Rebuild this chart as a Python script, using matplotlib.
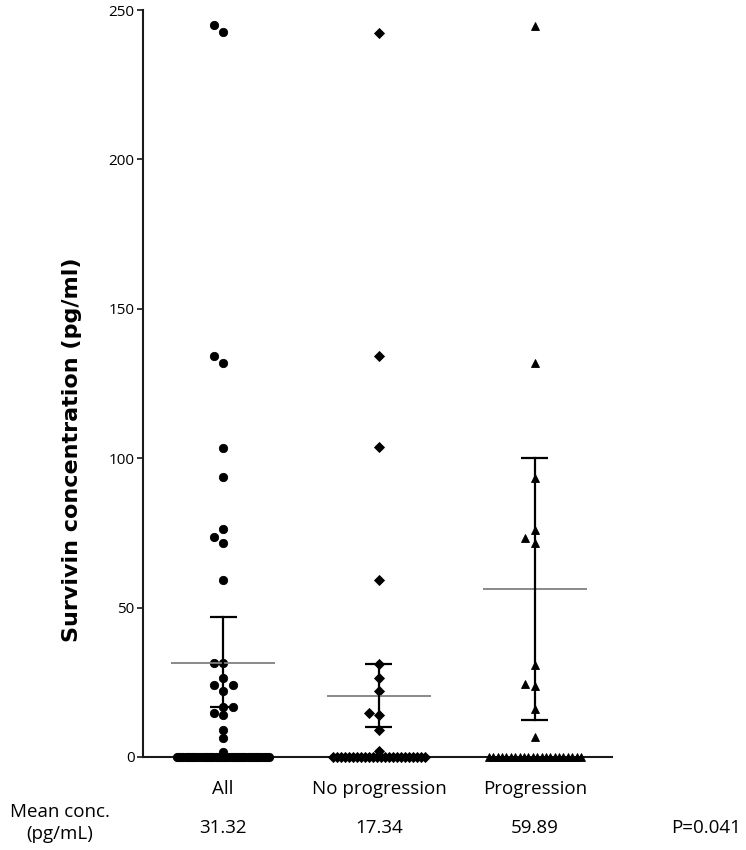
import numpy as np
import matplotlib
matplotlib.use('Agg')
import matplotlib.pyplot as plt
from matplotlib.transforms import blended_transform_factory

plt.rcParams['font.family'] = ['Open Sans', 'DejaVu Sans']

# ---------------- data ----------------
groups = ['All', 'No progression', 'Progression']
mean_conc_labels = ['31.32', '17.34', '59.89']
p_value_text = 'P=0.041'
y_ticks = [0, 50, 100, 150, 200, 250]

all_nonzero = [244.9, 242.6, 134.3, 131.9, 103.5, 93.7, 76.2, 73.5, 71.7, 59.2,
               31.3, 31.3, 26.3, 24.0, 24.0, 22.1, 16.7, 16.7, 14.6, 14.0, 9.2, 6.5, 1.8]
all_zero_count = 44
noprog_nonzero = [242.3, 134.2, 103.7, 59.2, 31.1, 26.3, 22.1, 14.8, 14.0, 9.0, 2.0]
noprog_zero_count = 24
prog_nonzero = [244.6, 131.7, 93.4, 76.0, 73.4, 71.5, 30.8, 24.4, 23.9, 16.1, 6.8]
prog_zero_count = 22

center_line = [31.3, 20.5, 56.3]
err_low = [16.7, 10.1, 12.4]
err_high = [46.7, 31.1, 100.2]

group_nonzero = [all_nonzero, noprog_nonzero, prog_nonzero]
group_zero_counts = [all_zero_count, noprog_zero_count, prog_zero_count]
markers = ['o', 'D', '^']
marker_sizes = [6.0, 5.0, 6.0]

# ---------------- figure ----------------
W, H = 746, 850
fig = plt.figure(figsize=(W / 100, H / 100), dpi=100)
ax = fig.add_axes([143 / W, 1 - 757 / H, (612 - 143) / W, 747 / H])
ax.set_ylim(0, 250)
ax.set_xlim(0.487, 3.494)

xpos = [1, 2, 3]

# pixel scale from the axes transform
p0 = ax.transData.transform((0, 0))
px_per_x = ax.transData.transform((1, 0))[0] - p0[0]
px_per_y = ax.transData.transform((0, 1))[1] - p0[1]


def swarm_x(vals, n_zero, center, step_px=9.5, thresh_px=8.0, zero_half_px=46.0):
    xs, ys = [], []
    # zero row, compressed to the column width
    if n_zero > 0:
        if (n_zero - 1) * step_px / 2 <= zero_half_px:
            offs = (np.arange(n_zero) - (n_zero - 1) / 2) * step_px
        else:
            offs = np.linspace(-zero_half_px, zero_half_px, n_zero)
        for o in offs:
            xs.append(center + o / px_per_x)
            ys.append(0.0)
    placed = []
    order = [0]
    for i in range(1, 10):
        order += [-i, i]
    for v in sorted(vals):
        ypx = v * px_per_y
        for k in order:
            if all(not (s == k and abs(ypx - py) < thresh_px) for s, py in placed):
                break
        placed.append((k, ypx))
        xs.append(center + k * step_px / px_per_x)
        ys.append(v)
    return xs, ys


for i in range(3):
    xs, ys = swarm_x(group_nonzero[i], group_zero_counts[i], xpos[i])
    ax.plot(xs, ys, linestyle='none', marker=markers[i], ms=marker_sizes[i],
            color='black', markeredgewidth=0.6, markeredgecolor='black',
            clip_on=False, zorder=3)

# mean lines and error bars
half_mean = 52 / px_per_x
half_cap = 13.5 / px_per_x
for i in range(3):
    x = xpos[i]
    ax.plot([x - half_mean, x + half_mean], [center_line[i]] * 2,
            color='#808080', lw=1.3, zorder=4, solid_capstyle='butt')
    ax.plot([x, x], [err_low[i], err_high[i]], color='black', lw=1.6, zorder=4)
    for yv in (err_low[i], err_high[i]):
        ax.plot([x - half_cap, x + half_cap], [yv, yv], color='black', lw=1.6,
                zorder=4, solid_capstyle='butt')

# axes styling
for s in ['top', 'right']:
    ax.spines[s].set_visible(False)
for s in ['left', 'bottom']:
    ax.spines[s].set_linewidth(1.5)
    ax.spines[s].set_color('#1a1a1a')
ax.set_yticks(y_ticks)
ax.set_yticklabels([str(t) for t in y_ticks], fontsize=11)
ax.tick_params(axis='y', length=4, width=1.2, pad=2, color='#1a1a1a')
ax.set_xticks(xpos)
ax.set_xticklabels(groups, fontsize=13.5)
ax.tick_params(axis='x', length=3, width=1.2, pad=13.5, color='#1a1a1a')

fig.text(72 / W, 1 - 450 / H, 'Survivin concentration (pg/ml)', rotation=90,
         ha='center', va='center', fontsize=16, fontweight='bold',
         family=['DejaVu Sans'])

fig.text(60 / W, 1 - 823 / H, 'Mean conc.\n(pg/mL)', ha='center', va='center',
         fontsize=13.5, linespacing=1.25)
trans = blended_transform_factory(ax.transData, fig.transFigure)
for i in range(3):
    ax.text(xpos[i], 1 - 828 / H, mean_conc_labels[i], transform=trans,
            ha='center', va='center', fontsize=13.5)
fig.text(706 / W, 1 - 828 / H, p_value_text, ha='center', va='center',
         fontsize=13.5)

fig.savefig('out.png', dpi=100)
